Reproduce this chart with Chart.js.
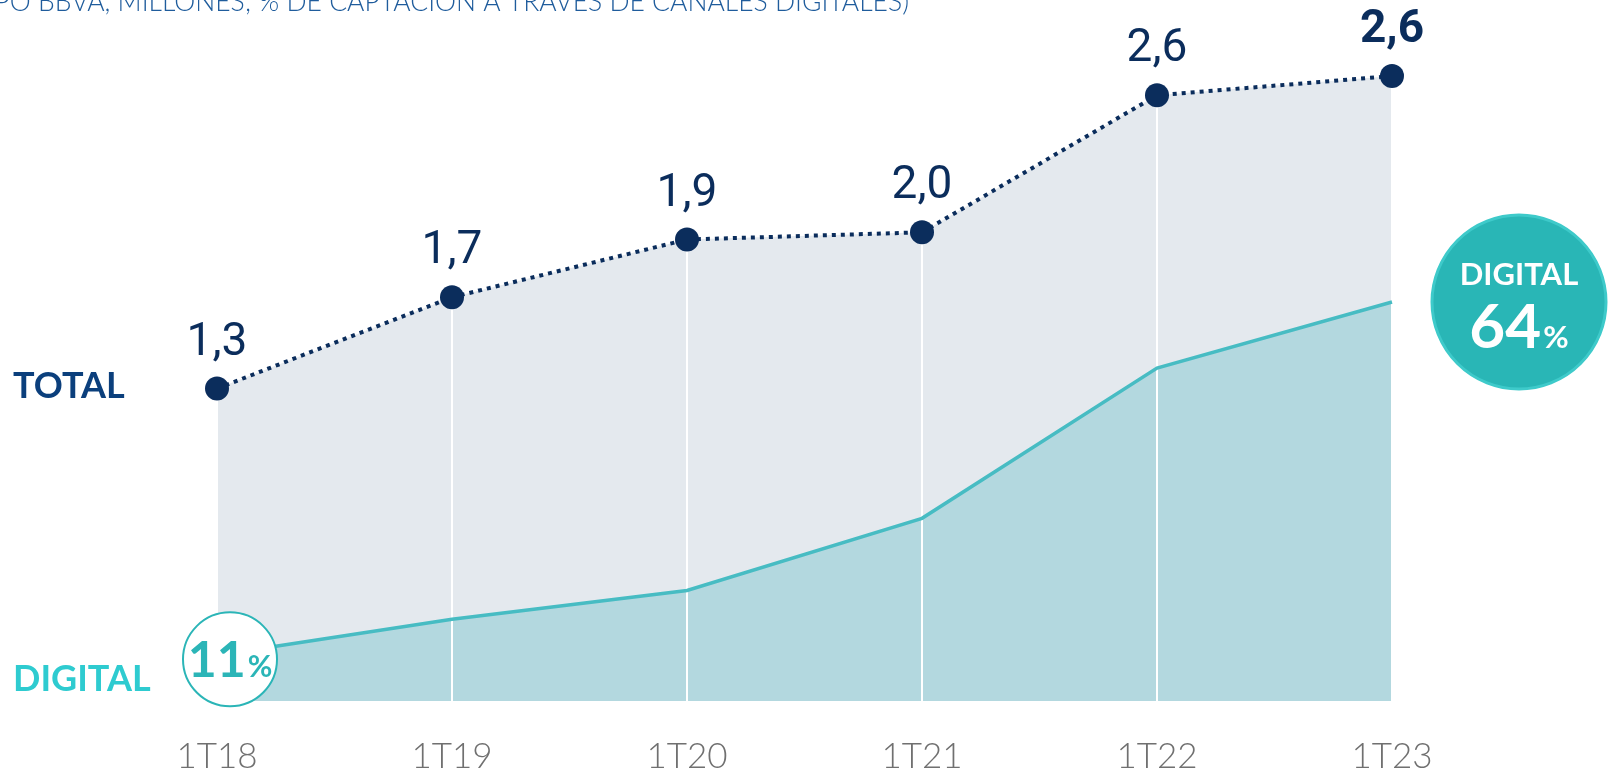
<!DOCTYPE html>
<html>
<head>
<meta charset="utf-8">
<script src="https://cdn.jsdelivr.net/npm/chart.js@4"></script>
<style>
  html, body { margin: 0; padding: 0; background: #ffffff; overflow: hidden; }
  #wrap { width: 1610px; height: 776px; position: relative; overflow: hidden; }
</style>
</head>
<body>
<div id="wrap"><canvas id="myChart" width="1610" height="813"></canvas></div>
<script>
// data
const quarters = ["1T18", "1T19", "1T20", "1T21", "1T22", "1T23"];
const totalValues = [1.3, 1.68, 1.92, 1.95, 2.52, 2.6];
const totalLabels = ["1,3", "1,7", "1,9", "2,0", "2,6", "2,6"];
const digitalValues = [0.19, 0.34, 0.46, 0.76, 1.385, 1.66];
const digitalShare = [11, 64];

const NAVY = "#0b2d5c";
const TEAL = "#2bb5b7";

function mainChart() {
  // labels, bubbles and the title
  const annotations = {
    id: "annotations",
    afterDatasetsDraw(chart) {
      const ctx = chart.ctx;
      const totalMeta = chart.getDatasetMeta(1);
      const digitalMeta = chart.getDatasetMeta(0);
      ctx.save();

      // value labels above the total points
      ctx.fillStyle = NAVY;
      ctx.textAlign = "center";
      ctx.textBaseline = "alphabetic";
      totalMeta.data.forEach((pt, i) => {
        const last = i === totalMeta.data.length - 1;
        ctx.font = (last ? "bold " : "normal ") + "46px Roboto";
        ctx.fillText(totalLabels[i], pt.x, pt.y - 34);
      });

      // TOTAL / DIGITAL on the left
      ctx.textAlign = "left";
      ctx.font = "bold 36px Lato";
      ctx.fillStyle = "#0b3f7c";
      ctx.fillText("TOTAL", 13, totalMeta.data[0].y + 9);
      ctx.fillStyle = "#2ecbd0";
      ctx.fillText("DIGITAL", 13, 691);

      // 11% bubble
      const p0 = digitalMeta.data[0];
      const cx0 = p0.x + 13, cy0 = p0.y + 4;
      ctx.beginPath();
      ctx.arc(cx0, cy0, 47, 0, Math.PI * 2);
      ctx.fillStyle = "#ffffff";
      ctx.fill();
      ctx.lineWidth = 2;
      ctx.strokeStyle = TEAL;
      ctx.stroke();
      drawPct(ctx, digitalShare[0], cx0, cy0 + 18, 50, 30, TEAL);

      // 64% bubble
      const p5 = digitalMeta.data[digitalMeta.data.length - 1];
      const cx1 = p5.x + 127, cy1 = p5.y;
      ctx.beginPath();
      ctx.arc(cx1, cy1, 87, 0, Math.PI * 2);
      ctx.fillStyle = "#29b6b6";
      ctx.fill();
      ctx.lineWidth = 3;
      ctx.strokeStyle = "#3ecaca";
      ctx.stroke();
      ctx.fillStyle = "#ffffff";
      ctx.textAlign = "center";
      ctx.font = "bold 31px Lato";
      ctx.fillText("DIGITAL", cx1, cy1 - 17);
      drawPct(ctx, digitalShare[1], cx1, cy1 + 46, 62, 31, "#ffffff");

      // title (cut at the top of the picture)
      ctx.fillStyle = "#1f5c9c";
      ctx.textAlign = "right";
      ctx.font = "300 26.5px Lato";
      ctx.fillText("(CLIENTES NUEVOS DEL GRUPO BBVA, MILLONES; % DE CAPTACIÓN A TRAVÉS DE CANALES DIGITALES)", 909, 11);

      ctx.restore();
    },
  };

  function drawPct(ctx, value, cx, baseY, bigSize, smallSize, color) {
    ctx.fillStyle = color;
    ctx.textAlign = "left";
    ctx.font = "bold " + bigSize + "px Lato";
    const w1 = ctx.measureText(String(value)).width;
    ctx.font = "bold " + smallSize + "px Lato";
    const w2 = ctx.measureText("%").width;
    const start = cx - (w1 + w2 + 2) / 2;
    ctx.font = "bold " + bigSize + "px Lato";
    ctx.fillText(String(value), start, baseY);
    ctx.font = "bold " + smallSize + "px Lato";
    ctx.fillText("%", start + w1 + 2, baseY);
  }

  const data = {
    labels: quarters,
    datasets: [
      {
        label: "digital",
        data: digitalValues,
        borderColor: "#47bcc3",
        backgroundColor: "#b3d8df",
        borderWidth: 3.5,
        fill: "origin",
        tension: 0,
        pointRadius: 0,
      },
      {
        label: "total",
        data: totalValues,
        borderColor: NAVY,
        backgroundColor: "#e4e9ee",
        borderWidth: 4,
        borderDash: [4, 5],
        fill: "origin",
        tension: 0,
        pointRadius: 12,
        pointBackgroundColor: NAVY,
        pointBorderWidth: 0,
      },
    ],
  };

  const options = {
    responsive: false,
    animation: false,
    layout: {
      padding: { left: 217, right: 218, top: 28, bottom: 0 },
    },
    plugins: {
      legend: { display: false },
      tooltip: { enabled: false },
      filler: { drawTime: "beforeDraw" },
    },
    scales: {
      x: {
        offset: false,
        grid: {
          color: "#ffffff",
          lineWidth: 2,
          drawTicks: false,
        },
        border: { display: false },
        ticks: {
          color: "#707070",
          padding: 35,
          font: { family: "Lato", size: 35, weight: 300 },
        },
      },
      y: {
        display: false,
        min: 0,
        max: 2.8,
      },
    },
  };

  const config = {
    type: "line",
    data: data,
    options: options,
    plugins: [annotations],
  };

  const myChart = new Chart(document.getElementById("myChart"), config);
}

mainChart();
</script>
</body>
</html>
